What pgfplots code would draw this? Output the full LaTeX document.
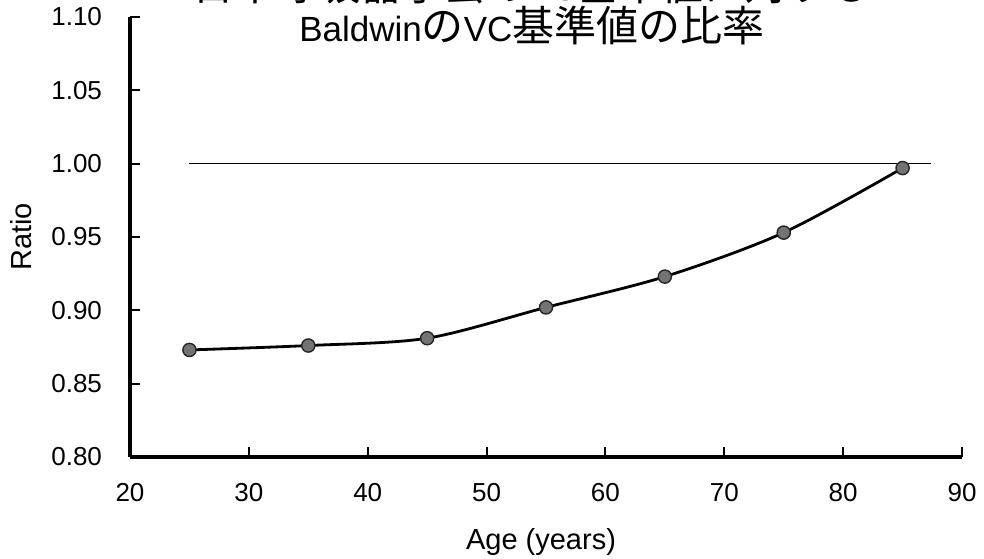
\documentclass[border=0pt]{standalone}
\usepackage{fontspec}
\setmainfont{Liberation Sans}
\newfontfamily\cjk[Scale=1.2]{Noto Sans CJK JP}
\usepackage{pgfplots}
\pgfplotsset{compat=1.18}
\definecolor{markgray}{RGB}{115,115,115}
\begin{document}
\begin{tikzpicture}
\begin{axis}[
  scale only axis, width=416pt, height=220pt,
  xmin=20, xmax=90, ymin=0.8, ymax=1.1,
  xtick={20,30,40,50,60,70,80,90},
  ytick={0.80,0.85,0.90,0.95,1.00,1.05,1.10},
  y tick label style={/pgf/number format/fixed, /pgf/number format/fixed zerofill, /pgf/number format/precision=2},
  /pgf/number format/assume math mode=true,
  axis x line*=bottom, axis y line*=left,
  axis line style={line width=1.6pt, -},
  tick align=inside, major tick length=5pt,
  tick style={line width=1pt, black},
  tick label style={font=\fontsize{13}{15}\selectfont},
  xticklabel shift=9.5pt, yticklabel shift=10.5pt,
  xlabel={Age (years)}, ylabel={Ratio},
  label style={font=\fontsize{14.5}{17}\selectfont},
  xlabel style={at={(axis description cs:0.494,-0.21)}, anchor=base},
  ylabel style={at={(axis description cs:-0.131,0.5)}, anchor=center},
  clip=false,
]
% reference line at 1.00
\addplot[black, line width=0.6pt] coordinates {(25,1.00) (87.4,1.00)};
% fitted curve
\addplot[black, line width=1.4pt, smooth, no marks] coordinates {
  (25,0.873) (35,0.876) (45,0.881) (55,0.902) (65,0.923) (75,0.953) (85,0.997)};
% data points
\addplot[only marks, mark=*, mark size=3.3pt, mark options={fill=markgray, draw=black!85, line width=0.7pt}] coordinates {
  (25,0.873) (35,0.876) (45,0.881) (55,0.902) (65,0.923) (75,0.953) (85,0.997)};
% title
\node[anchor=base, font=\fontsize{17.5}{20}\selectfont] at (axis description cs:0.483,1.0365) {{\cjk 日本呼吸器学会の}VC{\cjk 基準値に対する}};
\node[anchor=base, font=\fontsize{17.5}{20}\selectfont] at (axis description cs:0.483,0.945) {Baldwin{\cjk の}VC{\cjk 基準値の比率}};
\end{axis}
\pgfresetboundingbox
\useasboundingbox (-65pt,-50.5pt) rectangle (427pt,228.5pt);
\end{tikzpicture}
\end{document}
